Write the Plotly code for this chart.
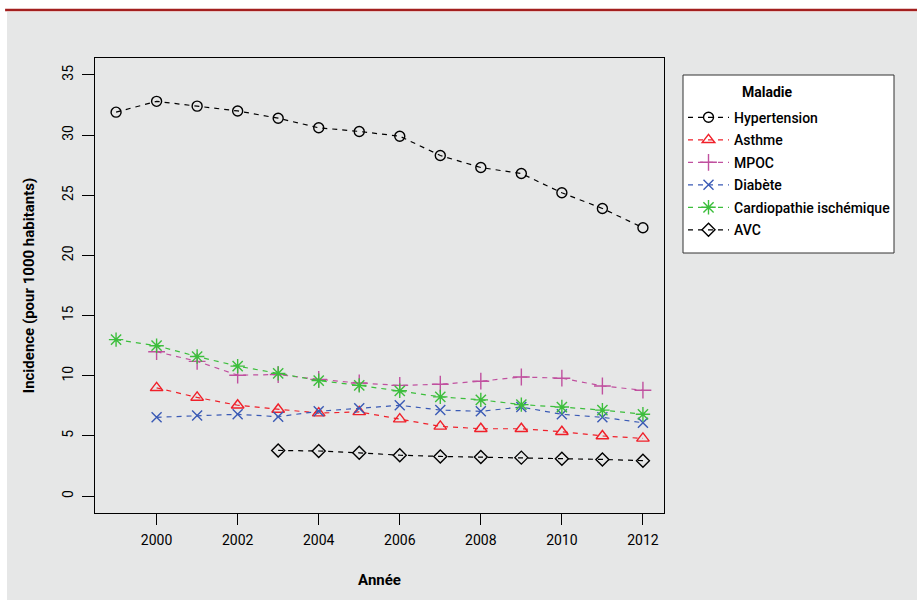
import plotly.graph_objects as go

years = list(range(1999, 2013))
hypertension = [31.9, 32.8, 32.4, 32.0, 31.4, 30.6, 30.3, 29.9, 28.3, 27.3, 26.8, 25.2, 23.9, 22.3]
years_2000 = list(range(2000, 2013))
asthme = [9.0, 8.2, 7.55, 7.2, 6.9, 7.0, 6.4, 5.8, 5.6, 5.6, 5.35, 5.0, 4.8]
mpoc = [12.0, 11.2, 10.05, 10.1, 9.7, 9.4, 9.2, 9.3, 9.55, 9.9, 9.8, 9.15, 8.8]
diabete = [6.55, 6.7, 6.8, 6.6, 7.05, 7.3, 7.55, 7.15, 7.05, 7.4, 6.8, 6.55, 6.1]
cardio = [13.0, 12.5, 11.6, 10.8, 10.2, 9.6, 9.2, 8.75, 8.25, 8.0, 7.6, 7.4, 7.15, 6.8]
years_2003 = list(range(2003, 2013))
avc = [3.8, 3.75, 3.6, 3.4, 3.3, 3.25, 3.2, 3.1, 3.05, 2.95]

x_ticks = [2000, 2002, 2004, 2006, 2008, 2010, 2012]
y_ticks = [0, 5, 10, 15, 20, 25, 30, 35]

FONT = "Roboto, Liberation Sans, sans-serif"

series = [
    ("Hypertension", years, hypertension, "#000000", "circle-open", 10),
    ("Asthme", years_2000, asthme, "#f0202a", "triangle-up-open", 11),
    ("MPOC", years_2000, mpoc, "#c0509f", "cross-thin-open", 12),
    ("Diabète", years_2000, diabete, "#3a5ab5", "x-thin-open", 10),
    ("Cardiopathie ischémique", years, cardio, "#3cbe3c", "asterisk-open", 12),
    ("AVC", years_2003, avc, "#000000", "diamond-open", 10),
]

fig = go.Figure()
for name, xs, ys, col, sym, sz in series:
    fig.add_trace(go.Scatter(
        x=xs, y=ys, name=name, legendgroup=name, mode="lines+markers",
        line=dict(color=col, width=1.2, dash="5px,5px"),
        marker=dict(symbol=sym, size=sz, color=col, line=dict(color=col, width=1.4)),
    ))

# background panel and top rule
fig.add_shape(type="rect", xref="paper", yref="paper", x0=-0.1547, x1=1.45, y0=-0.2, y1=1.1011,
              fillcolor="#e6e7e7", line=dict(width=0), layer="below")
fig.add_shape(type="line", xref="paper", yref="paper", x0=-0.158, x1=1.45, y0=1.1055, y1=1.1055,
              line=dict(color="#a3201f", width=2.5))
# legend frame
fig.add_shape(type="rect", xref="paper", yref="paper",
              x0=(683 - 95) / 569, x1=(894 - 95) / 569, y0=(513 - 253) / 455, y1=(513 - 75) / 455,
              fillcolor="white", line=dict(color="#333333", width=1), layer="above")
fig.add_annotation(text="<b>Maladie</b>", xref="paper", yref="paper",
                   x=(767 - 95) / 569, y=(513 - 92) / 455, xanchor="center", yanchor="middle",
                   showarrow=False, font=dict(family=FONT, size=14, color="black"))

fig.update_layout(
    width=917, height=600,
    margin=dict(l=95, r=253, t=58, b=87),
    paper_bgcolor="white", plot_bgcolor="#e6e7e7",
    font=dict(family=FONT, size=14, color="black"),
    showlegend=True,
    legend=dict(
        x=1.0334, y=(513 - 77) / 455, xanchor="left", yanchor="top",
        bgcolor="rgba(0,0,0,0)", borderwidth=0,
        font=dict(family=FONT, size=14, color="black", weight=500),
        title=dict(text=" ", side="top", font=dict(family=FONT, size=19)),
        tracegroupgap=1.3, itemwidth=41,
    ),
    xaxis=dict(
        range=[1998.48, 2012.52], tickvals=x_ticks, ticks="outside", ticklen=11, tickcolor="black",
        showline=True, linecolor="black", linewidth=1, mirror=True, showgrid=False, zeroline=False,
        tickfont=dict(size=14), ticklabelstandoff=3,
        title=dict(text="<b>Année</b>", font=dict(size=15), standoff=27),
    ),
    yaxis=dict(
        range=[-1.4, 36.4], tickvals=y_ticks, ticks="outside", ticklen=12, tickcolor="black",
        showline=True, linecolor="black", linewidth=1, mirror=True, showgrid=False, zeroline=False,
        tickangle=-90, tickfont=dict(size=14), ticklabelstandoff=3,
        title=dict(text="<b>Incidence (pour 1000 habitants)</b>", font=dict(size=15), standoff=22),
    ),
)

fig.write_html("out.html", config={"displayModeBar": False},
               post_script="document.body.style.margin='0';")
